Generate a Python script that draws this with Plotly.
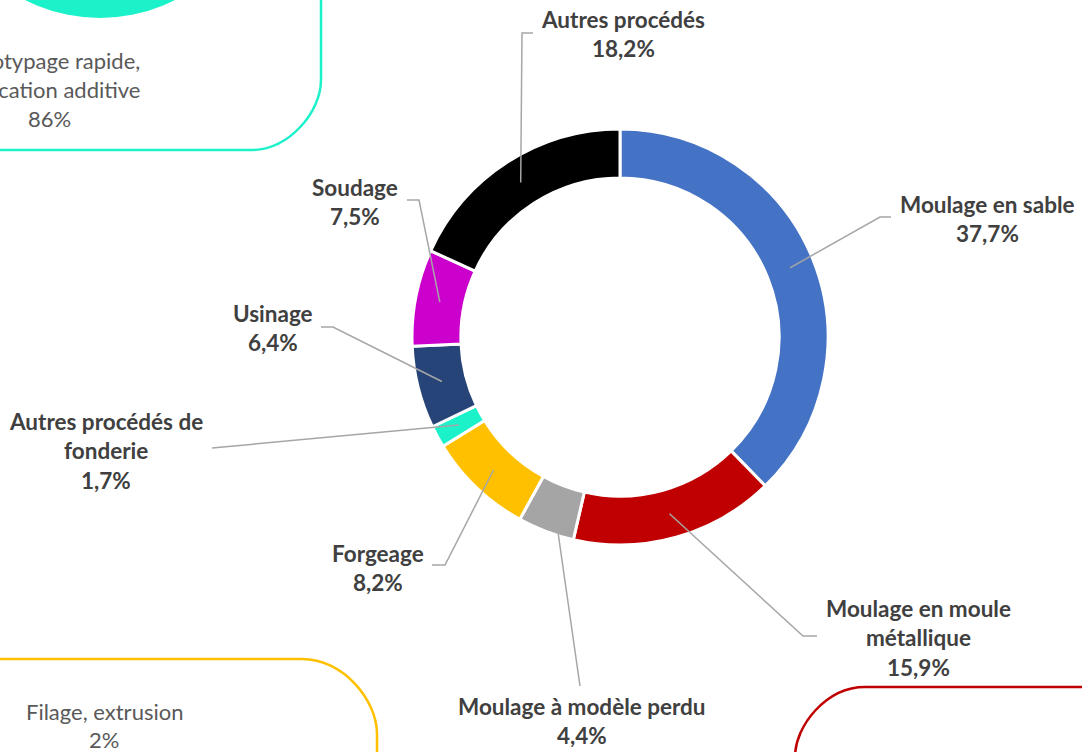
import math
import plotly.graph_objects as go

# ---- data ----
categories = ["Moulage en sable", "Moulage en moule métallique", "Moulage à modèle perdu",
              "Forgeage", "Autres procédés de fonderie", "Usinage", "Soudage", "Autres procédés"]
values = [37.7, 15.9, 4.4, 8.2, 1.7, 6.4, 7.5, 18.2]
label_lines = [["Moulage en sable"], ["Moulage en moule", "métallique"], ["Moulage à modèle perdu"],
               ["Forgeage"], ["Autres procédés de", "fonderie"], ["Usinage"], ["Soudage"],
               ["Autres procédés"]]
colors = ["#4472C4", "#C00000", "#A5A5A5", "#FFC000", "#1CF2CA", "#264478", "#CC00CC", "#000000"]

# ---- layout (page pixel coordinates) ----
W, H = 1082, 752
OFF = 0  # body margin removed via post_script
CX, CY, R_OUT, HOLE = 620, 337, 208, 0.765
R_MID = R_OUT * (1 + HOLE) / 2
label_pos = [(987, 204), (918, 608), (582, 706), (378, 553), (106, 421), (273, 313), (355, 187), (623, 19)]
leader_pts = [[(880, 217), (891, 217)], [(803, 636), (817, 636)], [(580, 686)],
              [(445, 565), (432, 565)], [(212, 448)], [(333, 327), (321, 327)],
              [(419, 200), (407, 200)], [(522, 33), (533, 33)]]
LINE_GAP = 29.5
TXT = "#404040"
FONT = "Lato"

fig = go.Figure()
fig.add_trace(go.Pie(
    labels=categories, values=values, sort=False, direction="clockwise", rotation=0,
    hole=HOLE, marker=dict(colors=colors, line=dict(color="white", width=3)),
    textinfo="none", hoverinfo="label+percent", showlegend=False,
    domain=dict(x=[(CX - OFF - R_OUT) / W, (CX - OFF + R_OUT) / W],
                y=[(H - (CY - OFF) - R_OUT) / H, (H - (CY - OFF) + R_OUT) / H]),
))

shapes = []
annotations = []
total = sum(values)
cum = 0.0
for i, v in enumerate(values):
    mid = (cum + v / 2) / total * 2 * math.pi
    cum += v
    sx = CX + R_MID * math.sin(mid)
    sy = CY - R_MID * math.cos(mid)
    pts = [(sx, sy)] + leader_pts[i]
    path = "M " + " L ".join(f"{x:.1f},{y:.1f}" for x, y in pts)
    shapes.append(dict(type="path", xref="x", yref="y", path=path,
                       line=dict(color="#A6A6A6", width=1.5)))
    lines = label_lines[i] + [f"{v:.1f}".replace(".", ",") + "%"]
    lx, ly = label_pos[i]
    for j, t in enumerate(lines):
        annotations.append(dict(x=lx, y=ly + j * LINE_GAP, xref="x", yref="y", text=f"<b>{t}</b>",
                                showarrow=False, xanchor="center", yanchor="middle",
                                font=dict(family=FONT, size=22.5, color=TXT)))

# ---- decorative infographic fragments ----
TEAL, YEL, RED = "#1CF2CA", "#FFC000", "#C00000"
k = 0.5523
shapes.append(dict(type="circle", xref="x", yref="y", x0=100 - 165, x1=100 + 165, y0=-147 - 165,
                   y1=18, fillcolor=TEAL, line=dict(width=0), layer="below"))
r = 70
shapes.append(dict(type="path", xref="x", yref="y", layer="below",
                   path=f"M -10,150 L {321 - r},150 C {321 - r + k * r},150 321,{150 - k * r} 321,{150 - r} L 321,-10",
                   line=dict(color=TEAL, width=2.5)))
r = 75
shapes.append(dict(type="path", xref="x", yref="y", layer="below",
                   path=f"M -10,659 L {377 - r},659 C {377 - r + k * r},659 377,{659 + k * r} 377,{659 + r} L 377,770",
                   line=dict(color=YEL, width=2.5)))
r = 70
shapes.append(dict(type="path", xref="x", yref="y", layer="below",
                   path=f"M 1100,687 L {795 + r},687 C {795 + r - k * r},687 795,{687 + k * r} 795,{687 + r} L 795,770",
                   line=dict(color=RED, width=2.5)))

GREY = "#595959"
for t, x, y in [("Prototypage rapide,", 45, 60), ("fabrication additive", 47, 89), ("86%", 49, 118),
                ("Filage, extrusion", 104, 711), ("2%", 104, 739)]:
    annotations.append(dict(x=x, y=y, xref="x", yref="y", text=t, showarrow=False,
                            xanchor="center", yanchor="middle",
                            font=dict(family=FONT, size=22, color=GREY)))

fig.update_layout(
    width=W, height=H, margin=dict(l=0, r=0, t=0, b=0),
    paper_bgcolor="white", plot_bgcolor="white",
    xaxis=dict(range=[OFF, W + OFF], visible=False, fixedrange=True, domain=[0, 1]),
    yaxis=dict(range=[H + OFF, OFF], visible=False, fixedrange=True, domain=[0, 1]),
    shapes=shapes, annotations=annotations,
)
fig.write_html("out.html", config={"displayModeBar": False},
               post_script="document.body.style.margin='0';document.body.style.overflow='hidden';")
